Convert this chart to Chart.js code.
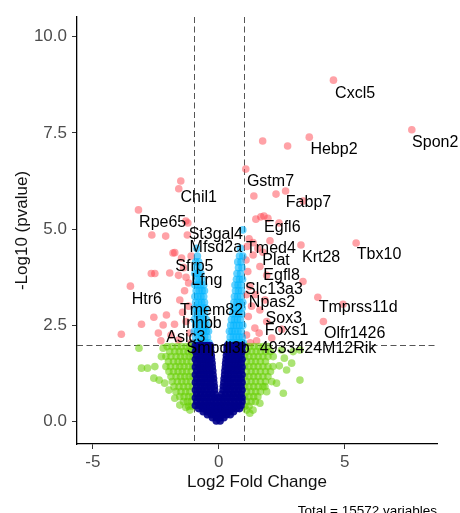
<!DOCTYPE html>
<html>
<head>
<meta charset="utf-8">
<script src="https://cdn.jsdelivr.net/npm/chart.js@4.4.1/dist/chart.umd.min.js"></script>
<style>
  body { margin: 0; background: #fff; }
  canvas { display: block; }
</style>
</head>
<body>
<canvas id="volcano" width="460" height="513"></canvas>
<script>
// log2 fold change / -log10 p-value
// significant on both (red)
const sigPoints = [
  [4.55, 8.87], [7.66, 7.58], [3.59, 7.39], [1.74, 7.29], [2.73, 7.16], [1.07, 6.56],
  [1.39, 5.86], [2.27, 5.91], [2.65, 5.99], [3.35, 5.73], [1.47, 5.26], [1.67, 5.32],
  [1.79, 5.34], [1.95, 5.28], [2.39, 5.16], [1.2, 4.75], [1.36, 4.65], [1.12, 4.55],
  [1.55, 4.5], [1.75, 4.4], [2.03, 4.7], [3.26, 4.59], [5.45, 4.64], [1.36, 4.33],
  [1.63, 4.03], [1.23, 3.51], [3.34, 3.64], [1.9, 3.8], [1.45, 3.3], [3.93, 3.23],
  [4.93, 3.05], [4.15, 2.6], [1.83, 3.16], [1.63, 2.9], [1.17, 2.73], [1.43, 2.43],
  [1.1, 2.25], [2.1, 2.17], [2.5, 2.4], [1.3, 3.0], [1.15, 3.9], [1.5, 2.1], [1.9, 2.6],
  [1.08, 4.2], [1.1, 3.3], [1.25, 2.05], [1.6, 2.3],
  [-1.51, 6.25], [-1.59, 6.05], [-3.19, 5.5], [-2.66, 4.85], [-2.11, 4.82], [-1.31, 5.21],
  [-1.23, 5.16], [-1.25, 4.85], [-1.75, 4.39], [-1.48, 4.25], [-1.82, 4.38], [-3.51, 3.52],
  [-2.68, 3.85], [-2.54, 3.85], [-1.95, 3.86], [-1.6, 3.8], [-1.3, 3.75], [-1.4, 4.0],
  [-1.55, 3.16], [-1.36, 3.4], [-1.2, 3.6], [-3.87, 2.27], [-3.07, 2.53], [-2.58, 2.71],
  [-2.21, 2.51], [-2.08, 2.77], [-1.44, 2.84], [-2.4, 2.3], [-1.76, 2.53], [-1.6, 2.12],
  [-1.3, 2.6], [-1.15, 2.3], [-1.2, 3.0], [-2.3, 2.1], [-1.9, 2.25], [-1.1, 4.3], [-1.1, 2.05]
];

// fold change only (green): scattered ones, then the dense band as rows [y, xs]
const fcPoints = [
  [-3.17, 1.91], [-3.07, 1.39], [-2.83, 1.39], [-2.54, 1.43], [-2.58, 1.13], [-2.28, 1.69],
  [-2.21, 1.91], [-2.37, 1.08], [-2.15, 1.0], [-1.98, 0.82], [-1.75, 0.61], [-1.55, 0.43],
  [-1.31, 0.37], [-1.15, 0.3],
  [3.22, 1.86], [2.56, 0.74], [2.89, 1.52], [2.95, 1.82], [3.22, 1.08], [2.69, 1.34],
  [2.16, 1.69], [2.49, 1.86], [2.29, 1.0], [1.83, 0.91], [1.63, 0.48], [1.36, 0.3],
  [1.23, 0.22], [2.4, 1.45], [2.6, 1.65]
];
const fcRows = [
  [1.95, [-2.05, -1.85, -1.65, -1.48, -1.3, -1.15, -1.03, 1.05, 1.22, 1.4, 1.58, 1.76, 1.95]],
  [1.82, [-1.95, -1.75, -1.57, -1.4, -1.22, -1.08, 1.12, 1.3, 1.48, 1.66, 1.85, 2.05]],
  [1.69, [-2.1, -1.9, -1.7, -1.52, -1.35, -1.18, -1.03, 1.03, 1.2, 1.38, 1.56, 1.75, 1.95]],
  [1.56, [-2.0, -1.8, -1.62, -1.45, -1.28, -1.1, 1.1, 1.28, 1.46, 1.65, 1.85]],
  [1.43, [-2.1, -1.92, -1.72, -1.55, -1.38, -1.2, -1.04, 1.03, 1.2, 1.38, 1.56, 1.75, 1.95, 2.15]],
  [1.3, [-1.98, -1.8, -1.62, -1.45, -1.28, -1.1, 1.1, 1.28, 1.46, 1.65, 1.85, 2.05]],
  [1.17, [-1.9, -1.7, -1.52, -1.35, -1.18, -1.03, 1.03, 1.2, 1.38, 1.56, 1.75, 1.95]],
  [1.04, [-1.85, -1.65, -1.47, -1.3, -1.12, 1.1, 1.28, 1.46, 1.65, 1.85, 2.1]],
  [0.91, [-1.78, -1.58, -1.4, -1.22, -1.05, 1.03, 1.2, 1.38, 1.56, 1.75]],
  [0.78, [-1.7, -1.5, -1.32, -1.15, 1.1, 1.28, 1.46, 1.65, 1.9]],
  [0.65, [-1.55, -1.38, -1.2, -1.05, 1.03, 1.2, 1.38, 1.55]],
  [0.52, [-1.4, -1.25, -1.1, 1.1, 1.28, 1.45]],
  [0.4, [-1.2, -1.05, 1.03, 1.2]],
  [0.3, [1.1]]
];

// p-value only (light blue), rows [y, xs]
const pRows = [
  [2.05, [-0.97, -0.85, -0.73, -0.61, -0.5, -0.39, 0.4, 0.52, 0.64, 0.76, 0.88, 0.97]],
  [2.2, [-0.92, -0.8, -0.68, -0.56, -0.45, 0.45, 0.57, 0.69, 0.81, 0.93]],
  [2.35, [-0.97, -0.85, -0.73, -0.61, -0.5, -0.41, 0.42, 0.52, 0.64, 0.76, 0.88]],
  [2.5, [-0.92, -0.8, -0.68, -0.56, -0.46, 0.47, 0.58, 0.7, 0.82, 0.95]],
  [2.65, [-0.97, -0.85, -0.73, -0.61, -0.5, 0.5, 0.62, 0.74, 0.86]],
  [2.8, [-0.92, -0.8, -0.68, -0.56, 0.55, 0.67, 0.79, 0.91]],
  [2.95, [-0.97, -0.85, -0.73, -0.61, -0.52, 0.57, 0.69, 0.81, 0.93]],
  [3.1, [-0.92, -0.8, -0.68, -0.57, 0.6, 0.72, 0.84, 0.95]],
  [3.25, [-0.95, -0.83, -0.71, -0.6, 0.62, 0.74, 0.86]],
  [3.4, [-0.9, -0.78, -0.66, -0.57, 0.66, 0.78, 0.9]],
  [3.55, [-0.95, -0.83, -0.71, -0.6, 0.64, 0.76, 0.88]],
  [3.7, [-0.9, -0.78, -0.66, 0.7, 0.82, 0.94]],
  [3.85, [-0.95, -0.83, -0.71, 0.72, 0.86]],
  [4.0, [-0.88, -0.76, 0.78, 0.92]],
  [4.15, [-0.92, -0.8, 0.75, 0.88]],
  [4.3, [-0.85, 0.82, 0.95]],
  [4.5, [-0.87, 0.86]],
  [4.98, [0.95]]
];

// not significant (navy), rows [y, xs]
const nsRows = [
  [0.02, [-0.1, 0.05]],
  [0.1, [-0.25, -0.1, 0.05, 0.2]],
  [0.18, [-0.45, -0.3, -0.15, 0, 0.15, 0.3, 0.45]],
  [0.26, [-0.62, -0.47, -0.32, -0.17, -0.02, 0.13, 0.28, 0.43, 0.58]],
  [0.34, [-0.8, -0.65, -0.5, -0.35, -0.2, -0.05, 0.1, 0.25, 0.4, 0.55, 0.7, 0.82]],
  [0.42, [-0.93, -0.78, -0.63, -0.48, -0.33, -0.18, -0.03, 0.12, 0.27, 0.42, 0.57, 0.72, 0.88]],
  [0.52, [-0.88, -0.73, -0.58, -0.43, -0.28, -0.13, 0.02, 0.17, 0.32, 0.47, 0.62, 0.77, 0.92]],
  [0.62, [-0.93, -0.78, -0.63, -0.48, -0.33, -0.18, -0.05, 0.08, 0.22, 0.37, 0.52, 0.67, 0.82, 0.92]],
  [0.72, [-0.88, -0.73, -0.58, -0.43, -0.28, -0.15, 0.12, 0.27, 0.42, 0.57, 0.72, 0.88]],
  [0.82, [-0.93, -0.78, -0.63, -0.48, -0.33, -0.17, 0.17, 0.32, 0.47, 0.62, 0.77, 0.92]],
  [0.92, [-0.88, -0.73, -0.58, -0.43, -0.3, -0.18, 0.18, 0.3, 0.43, 0.58, 0.73, 0.88]],
  [1.02, [-0.93, -0.78, -0.63, -0.48, -0.34, -0.2, 0.2, 0.34, 0.48, 0.63, 0.78, 0.92]],
  [1.12, [-0.88, -0.73, -0.58, -0.44, -0.32, -0.21, 0.21, 0.33, 0.45, 0.6, 0.75, 0.88]],
  [1.22, [-0.93, -0.78, -0.63, -0.49, -0.36, -0.23, 0.23, 0.36, 0.49, 0.63, 0.78, 0.92]],
  [1.32, [-0.88, -0.73, -0.6, -0.48, -0.36, -0.24, 0.24, 0.36, 0.48, 0.6, 0.75, 0.88]],
  [1.42, [-0.93, -0.78, -0.64, -0.51, -0.38, -0.26, 0.26, 0.38, 0.51, 0.64, 0.78, 0.92]],
  [1.52, [-0.88, -0.74, -0.61, -0.49, -0.38, -0.27, 0.27, 0.38, 0.5, 0.62, 0.75, 0.88]],
  [1.62, [-0.93, -0.79, -0.65, -0.52, -0.4, -0.29, 0.29, 0.4, 0.52, 0.65, 0.79, 0.92]],
  [1.72, [-0.88, -0.74, -0.61, -0.5, -0.4, -0.3, 0.3, 0.41, 0.52, 0.64, 0.76, 0.88]],
  [1.82, [-0.93, -0.79, -0.66, -0.54, -0.43, -0.32, 0.32, 0.43, 0.55, 0.67, 0.8, 0.92]],
  [1.92, [-0.88, -0.75, -0.63, -0.52, -0.42, -0.33, 0.33, 0.43, 0.54, 0.66, 0.78, 0.9]],
  [1.98, [-0.93, -0.8, -0.68, -0.56, -0.45, -0.34, 0.34, 0.45, 0.57, 0.69, 0.81, 0.93]]
];

const geneNames = ['Cxcl5', 'Spon2', 'Hebp2', 'Gstm7', 'Fabp7', 'Egfl6', 'Chil1', 'Rpe65',
  'St3gal4', 'Mfsd2a', 'Tmed4', 'Plat', 'Krt28', 'Tbx10', 'Egfl8', 'Slc13a3', 'Npas2',
  'Sox3', 'Foxs1', 'Olfr1426', 'Tmprss11d', '4933424M12Rik', 'Sfrp5', 'Lfng', 'Htr6',
  'Tmem82', 'Inhbb', 'Asic3', 'Smpdl3b'];
const geneLabelX = [5.41, 8.59, 4.57, 2.05, 3.56, 2.52, -0.8, -2.23,
  -0.12, -0.12, 2.07, 2.27, 4.06, 6.36, 2.49, 2.19, 2.11,
  2.58, 2.69, 5.39, 5.53, 3.94, -0.97, -0.48, -2.86,
  -0.29, -0.68, -1.31, -0.03];
const geneLabelY = [8.53, 7.24, 7.07, 6.23, 5.69, 5.04, 5.83, 5.17,
  4.87, 4.53, 4.5, 4.18, 4.27, 4.33, 3.79, 3.44, 3.09,
  2.69, 2.36, 2.28, 2.96, 1.89, 4.04, 3.66, 3.18,
  2.88, 2.56, 2.19, 1.91];

const xTicks = [-5, 0, 5];
const yTicks = [0, 2.5, 5, 7.5, 10];
const fcCutoff = 1;
const pCutoff = 2;

const fontFamily = "'Liberation Sans', Arial, Helvetica, sans-serif";
const toXY = arr => arr.map(p => ({ x: p[0], y: p[1] }));
const rowsToXY = rows => rows.flatMap(r => r[1].map(x => ({ x: x, y: r[0] })));

const cutoffLines = {
  id: 'cutoffLines',
  beforeDatasetsDraw(chart) {
    const { ctx, chartArea, scales } = chart;
    ctx.save();
    ctx.strokeStyle = '#555';
    ctx.lineWidth = 1;
    ctx.setLineDash([6, 3.5]);
    [-fcCutoff, fcCutoff].forEach(v => {
      const px = Math.round(scales.x.getPixelForValue(v)) + 0.5;
      ctx.beginPath();
      ctx.moveTo(px, chartArea.top);
      ctx.lineTo(px, chartArea.bottom);
      ctx.stroke();
    });
    const py = Math.round(scales.y.getPixelForValue(pCutoff)) + 0.5;
    ctx.beginPath();
    ctx.moveTo(chartArea.left, py);
    ctx.lineTo(chartArea.right, py);
    ctx.stroke();
    ctx.restore();
  }
};

const geneLabels = {
  id: 'geneLabels',
  afterDatasetsDraw(chart) {
    const { ctx, scales } = chart;
    ctx.save();
    ctx.fillStyle = '#000';
    ctx.font = '16px ' + fontFamily;
    ctx.textAlign = 'center';
    ctx.textBaseline = 'middle';
    geneNames.forEach((name, i) => {
      ctx.fillText(name, scales.x.getPixelForValue(geneLabelX[i]), scales.y.getPixelForValue(geneLabelY[i]));
    });
    // caption
    ctx.font = '13.5px ' + fontFamily;
    ctx.textAlign = 'right';
    ctx.textBaseline = 'alphabetic';
    ctx.fillText('Total = 15572 variables', 437, 515);
    ctx.restore();
  }
};

const ctx = document.getElementById('volcano').getContext('2d');
new Chart(ctx, {
  type: 'scatter',
  data: {
    datasets: [
      { label: 'NS', data: rowsToXY(nsRows), backgroundColor: 'rgba(0, 0, 139, 0.9)' },
      { label: 'Log2 FC', data: toXY(fcPoints).concat(rowsToXY(fcRows)), backgroundColor: 'rgba(102, 205, 0, 0.55)' },
      { label: 'p-value', data: rowsToXY(pRows), backgroundColor: 'rgba(0, 180, 255, 0.6)' },
      { label: 'p-value and log2 FC', data: toXY(sigPoints), backgroundColor: 'rgba(255, 70, 80, 0.5)' }
    ]
  },
  options: {
    responsive: false,
    animation: false,
    layout: { padding: { top: 17, right: 23, left: 0, bottom: 0 } },
    elements: { point: { radius: 3.8, borderWidth: 0, hoverRadius: 3.8 } },
    plugins: { legend: { display: false }, tooltip: { enabled: false } },
    scales: {
      x: {
        type: 'linear',
        min: -5.63,
        max: 8.66,
        afterBuildTicks: s => { s.ticks = xTicks.map(v => ({ value: v })); },
        afterFit: s => { s.height = 69; },
        grid: { drawOnChartArea: false, drawTicks: true, tickLength: 5, color: '#333', lineWidth: 1 },
        border: { display: true, color: '#000', width: 1.3 },
        ticks: { color: '#4d4d4d', font: { size: 17, family: fontFamily }, padding: 3, maxRotation: 0 },
        title: { display: true, text: 'Log2 Fold Change', color: '#111', font: { size: 17, family: fontFamily }, padding: { top: 0, bottom: 20 } }
      },
      y: {
        type: 'linear',
        min: -0.58,
        max: 10.51,
        afterBuildTicks: s => { s.ticks = yTicks.map(v => ({ value: v })); },
        afterFit: s => { s.width = 77; },
        grid: { drawOnChartArea: false, drawTicks: true, tickLength: 5, color: '#333', lineWidth: 1 },
        border: { display: true, color: '#000', width: 1.3 },
        ticks: { color: '#4d4d4d', font: { size: 17, family: fontFamily }, padding: 5, callback: v => v.toFixed(1) },
        title: { display: true, text: '-Log10 (pvalue)', color: '#111', font: { size: 17, family: fontFamily }, padding: { top: 12, bottom: 0 } }
      }
    }
  },
  plugins: [cutoffLines, geneLabels]
});
</script>
</body>
</html>
